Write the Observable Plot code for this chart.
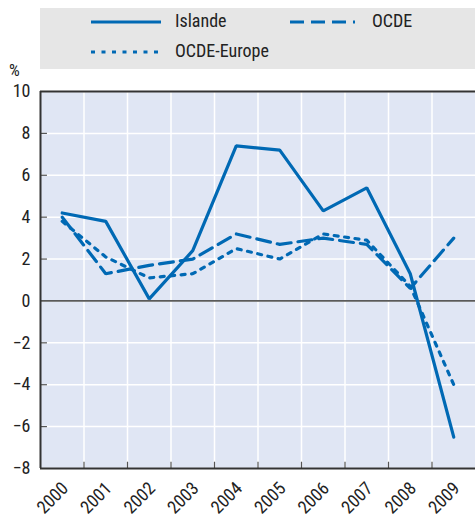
<!DOCTYPE html>
<html>
<head>
<meta charset="utf-8">
<script src="https://cdn.jsdelivr.net/npm/d3@7"></script>
<script src="https://cdn.jsdelivr.net/npm/@observablehq/plot@0.6"></script>
<style>
  body { margin: 0; background: #fff; font-family: "Liberation Sans Narrow", "Arial Narrow", "Roboto Condensed", sans-serif; color: #222; }
  #wrap { position: relative; width: 475px; height: 517px; overflow: hidden; }
  #legend { position: absolute; left: 40px; top: 8px; width: 435px; height: 61px; background: #e6e6e6; }
  .sample { position: absolute; }
  .lab { position: absolute; font-size: 18px; line-height: 20px; }
  #pct { position: absolute; left: 9px; top: 60px; font-size: 17px; }
  #chart { position: absolute; left: 0; top: 78px; }
</style>
</head>
<body>
<div id="wrap">
  <div id="legend"></div>
  <div id="pct">%</div>
  <div id="chart"></div>
</div>
<script>
const years = [2000, 2001, 2002, 2003, 2004, 2005, 2006, 2007, 2008, 2009];
const islande = [4.2, 3.8, 0.1, 2.4, 7.4, 7.2, 4.3, 5.4, 1.3, -6.5];
const ocde = [4.0, 1.3, 1.7, 2.0, 3.2, 2.7, 3.0, 2.7, 0.6, 3.0];
const ocdeEurope = [3.8, 2.1, 1.1, 1.3, 2.5, 2.0, 3.2, 2.9, 0.7, -4.0];
const yTicks = [-8, -6, -4, -2, 0, 2, 4, 6, 8, 10];
const seriesNames = ["Islande", "OCDE", "OCDE-Europe"];

const blue = "#0069b4";
const dashes = {"Islande": null, "OCDE": "14,7", "OCDE-Europe": "4,6.5"};

const data = [];
[islande, ocde, ocdeEurope].forEach((vals, i) => {
  vals.forEach((v, j) => data.push({series: seriesNames[i], year: years[j], value: v}));
});
const boundaries = years.slice(0, -1).map(y => y + 0.5);

// Legend (positions relative to legend box)
const legend = document.getElementById("legend");
const pos = {"Islande": [51, 14, 70, 135], "OCDE": [250, 14, 65, 332], "OCDE-Europe": [51, 44, 70, 135]};
for (const name of seriesNames) {
  const [lx, ly, w, tx] = pos[name];
  const s = document.createElement("div");
  s.className = "sample";
  s.style.left = lx + "px";
  s.style.top = (ly - 10) + "px";
  s.innerHTML = `<svg width="${w}" height="20"><line x1="0" x2="${w}" y1="10" y2="10" stroke="${blue}" stroke-width="3" ${dashes[name] ? `stroke-dasharray="${dashes[name]}"` : ""}/></svg>`;
  legend.appendChild(s);
  const t = document.createElement("div");
  t.className = "lab";
  t.style.left = tx + "px";
  t.style.top = (ly - 11) + "px";
  t.textContent = name;
  legend.appendChild(t);
}

const chart = Plot.plot({
  width: 475,
  height: 439,
  marginTop: 13,
  marginBottom: 49,
  marginLeft: 40,
  marginRight: 0,
  style: {fontFamily: '"Liberation Sans Narrow", "Arial Narrow", "Roboto Condensed", sans-serif', fontSize: "18px", color: "#222", background: "transparent", overflow: "visible"},
  x: {domain: [1999.5, 2009.5], axis: null, label: null},
  y: {domain: [-8, 10], axis: null, label: null},
  marks: [
    Plot.frame({fill: "#e0e6f4", stroke: null}),
    Plot.ruleY(yTicks, {stroke: "white", strokeWidth: 1.5}),
    Plot.ruleX(boundaries, {stroke: "white", strokeWidth: 1.5}),
    Plot.ruleY([0], {stroke: "#5a5a5a", strokeWidth: 1.8}),
    Plot.ruleY(yTicks.filter(t => t > -8 && t < 10 && t !== 0), {x1: 1999.5, x2: 1999.5 + 0.16, stroke: "#555", strokeWidth: 1.2}),
    Plot.ruleX(boundaries, {y1: -8, y2: -8 + 0.3, stroke: "#555", strokeWidth: 1.2}),
    Plot.line(data.filter(d => d.series === "OCDE-Europe"), {x: "year", y: "value", stroke: blue, strokeWidth: 3.2, strokeDasharray: dashes["OCDE-Europe"], strokeLinejoin: "miter"}),
    Plot.line(data.filter(d => d.series === "OCDE"), {x: "year", y: "value", stroke: blue, strokeWidth: 3.2, strokeDasharray: dashes["OCDE"], strokeLinejoin: "miter"}),
    Plot.line(data.filter(d => d.series === "Islande"), {x: "year", y: "value", stroke: blue, strokeWidth: 3.2, strokeLinejoin: "miter"}),
    Plot.ruleY([10, -8], {stroke: "#333", strokeWidth: 2}),
    Plot.ruleX([1999.5], {stroke: "#333", strokeWidth: 2}),
    Plot.axisY(yTicks, {tickSize: 0, tickPadding: 10, fontSize: 18, label: null}),
    Plot.axisX(years, {tickSize: 0, tickPadding: 10, dy: 7, dx: 3, tickRotate: -45, tickFormat: d => String(d), fontSize: 18, label: null})
  ]
});
document.getElementById("chart").appendChild(chart);
</script>
</body>
</html>
